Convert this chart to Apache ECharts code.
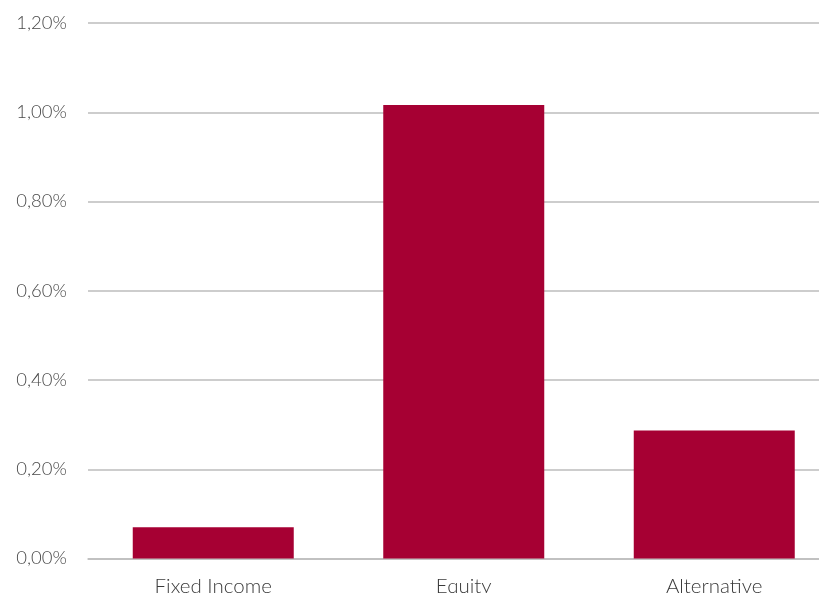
<!DOCTYPE html>
<html>
<head>
<meta charset="utf-8">
<script src="https://cdn.jsdelivr.net/npm/echarts@6/dist/echarts.min.js"></script>
<style>
html,body{margin:0;padding:0;background:#fff;overflow:hidden;}
#chart{width:819px;height:593px;}
</style>
</head>
<body>
<div id="chart"></div>
<script>
const categories = ['Fixed Income', 'Equity', 'Alternative'];
const values = [0.070, 1.016, 0.287];
const yMin = 0, yMax = 1.2, yStep = 0.2;

const chart = echarts.init(document.getElementById('chart'), null, {renderer: 'canvas'});
chart.setOption({
  animation: false,
  backgroundColor: '#ffffff',
  grid: {left: 88, right: -20.5, top: 23, bottom: 34.5, containLabel: false, outerBoundsMode: 'none'},
  xAxis: {
    type: 'category',
    data: categories,
    axisTick: {show: false},
    axisLine: {show: true, lineStyle: {color: '#bdbdbd', width: 1.5}},
    axisLabel: {color: '#3a3a3a', fontSize: 20.5, fontFamily: 'Lato', fontWeight: 300, margin: 17}
  },
  yAxis: {
    type: 'value',
    min: yMin, max: yMax, interval: yStep,
    axisLine: {show: false},
    axisTick: {show: false},
    splitLine: {lineStyle: {color: '#bdbdbd', width: 1.5}},
    axisLabel: {
      color: '#4a4a4a', fontSize: 18.5, fontFamily: 'Lato', fontWeight: 300, margin: 21,
      formatter: v => v.toFixed(2).replace('.', ',') + '%'
    }
  },
  series: [{
    type: 'bar',
    data: values,
    barWidth: 161,
    itemStyle: {color: '#a60033'}
  }]
});
</script>
</body>
</html>
